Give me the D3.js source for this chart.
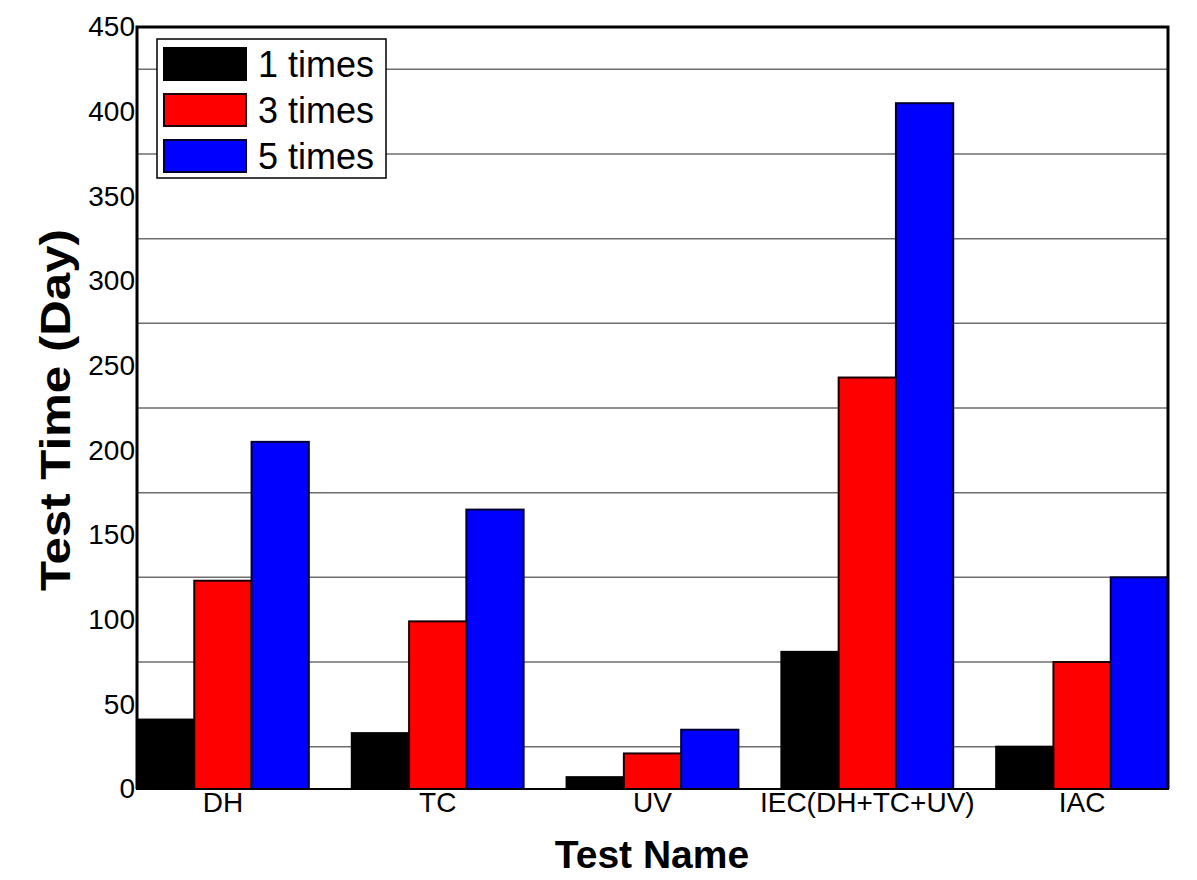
<!DOCTYPE html>
<meta charset="utf-8">
<style>
body { margin: 0; background: #fff; }
text { font-family: "Liberation Sans", Arial, sans-serif; }
.grid line { stroke: #6e6e6e; stroke-width: 1.5; }
</style>
<body>
<script src="https://d3js.org/d3.v7.min.js"></script>
<script>

// data
var categories = ["DH", "TC", "UV", "IEC(DH+TC+UV)", "IAC"];
var seriesNames = ["1 times", "3 times", "5 times"];
var seriesColors = ["#000000", "#ff0000", "#0000ff"];
var strokeColors = ["#000000", "#1a0000", "#000033"];
var ones   = [41, 33, 7, 81, 25];
var threes = [123, 99, 21, 243, 75];
var fives  = [205, 165, 35, 405, 125];
var yTicks = [0, 50, 100, 150, 200, 250, 300, 350, 400, 450];
var gridValues = [25, 75, 125, 175, 225, 275, 325, 375, 425];

var allSeries = [ones, threes, fives];

// plot box (window.top is reserved, so keep these in an object)
var W = 1197, H = 880;
var box = {left: 137, right: 1168, top: 27, bottom: 789};

var svg = d3.select("body").append("svg")
    .attr("width", W)
    .attr("height", H);

var x0 = d3.scaleBand().domain(categories).range([box.left, box.right])
    .paddingInner(0.2).paddingOuter(0);
var x1 = d3.scaleBand().domain(d3.range(seriesNames.length))
    .range([0, x0.bandwidth()]);
var y = d3.scaleLinear().domain([0, 450]).range([box.bottom, box.top]);

// grid lines (sit on the half steps)
svg.append("g").attr("class", "grid")
  .selectAll("line")
  .data(gridValues)
  .enter().append("line")
    .attr("x1", box.left).attr("x2", box.right)
    .attr("y1", function(d) { return y(d); })
    .attr("y2", function(d) { return y(d); });

// bars
var rows = [];
categories.forEach(function(c, i) {
  allSeries.forEach(function(s, j) {
    rows.push({cat: c, k: j, v: s[i]});
  });
});

svg.append("g").selectAll("rect")
  .data(rows)
  .enter().append("rect")
    .attr("x", function(d) { return x0(d.cat) + x1(d.k); })
    .attr("width", x1.bandwidth())
    .attr("y", function(d) { return y(d.v); })
    .attr("height", function(d) { return y(0) - y(d.v); })
    .attr("fill", function(d) { return seriesColors[d.k]; })
    .attr("stroke", function(d) { return strokeColors[d.k]; })
    .attr("stroke-width", 2);

// frame: left, top, right thick, bottom thinner
svg.append("path")
    .attr("d", "M" + box.left + "," + box.bottom + "V" + box.top + "H" + box.right + "V" + box.bottom)
    .attr("fill", "none")
    .attr("stroke", "#000")
    .attr("stroke-width", 3);
svg.append("line")
    .attr("x1", box.left).attr("x2", box.right)
    .attr("y1", box.bottom).attr("y2", box.bottom)
    .attr("stroke", "#000")
    .attr("stroke-width", 2);

// y axis
var yAxis = svg.append("g")
    .attr("transform", "translate(" + (box.left - 1) + ",0)")
    .call(d3.axisLeft(y).tickValues(yTicks).tickSize(0).tickPadding(1));
yAxis.select(".domain").remove();
yAxis.selectAll("text")
    .attr("font-size", 28)
    .attr("fill", "#000")
    .style("font-family", "'Liberation Sans', Arial, sans-serif");

// x axis labels
var xAxis = svg.append("g")
    .attr("transform", "translate(0," + box.bottom + ")")
    .call(d3.axisBottom(x0).tickSize(0).tickPadding(3));
xAxis.select(".domain").remove();
xAxis.selectAll("text")
    .attr("font-size", 28)
    .attr("fill", "#000")
    .style("font-family", "'Liberation Sans', Arial, sans-serif");

// titles
svg.append("text")
    .attr("x", 652).attr("y", 868)
    .attr("text-anchor", "middle")
    .attr("font-size", 39)
    .attr("font-weight", "bold")
    .text("Test Name");

svg.append("text")
    .attr("transform", "translate(70,410) rotate(-90)")
    .attr("text-anchor", "middle")
    .attr("font-size", 43)
    .attr("font-weight", "bold")
    .attr("textLength", 362)
    .attr("lengthAdjust", "spacingAndGlyphs")
    .text("Test Time (Day)");

// legend
var legend = svg.append("g");
legend.append("rect")
    .attr("x", 157).attr("y", 39)
    .attr("width", 229).attr("height", 139)
    .attr("fill", "#fff")
    .attr("stroke", "#000")
    .attr("stroke-width", 1.5);

var item = legend.selectAll("g.item")
  .data(seriesNames)
  .enter().append("g")
    .attr("transform", function(d, i) { return "translate(0," + (i * 46) + ")"; });
item.append("rect")
    .attr("x", 164).attr("y", 48)
    .attr("width", 82).attr("height", 32)
    .attr("fill", function(d, i) { return seriesColors[i]; })
    .attr("stroke", function(d, i) { return strokeColors[i]; })
    .attr("stroke-width", 2);
item.append("text")
    .attr("x", 258).attr("y", 77)
    .attr("font-size", 36)
    .text(function(d) { return d; });

</script>
</body>
